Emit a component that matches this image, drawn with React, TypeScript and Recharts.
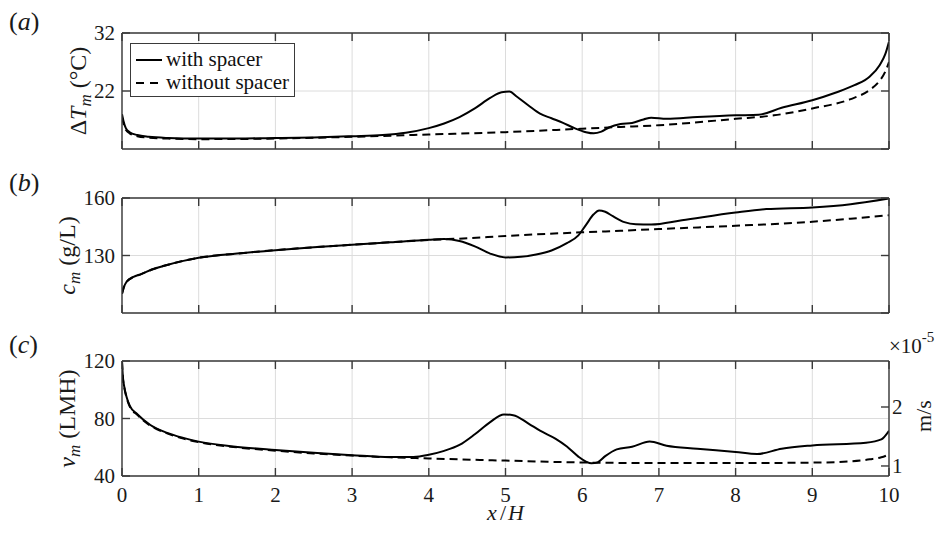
import React from 'react';
import { LineChart, Line, XAxis, YAxis, CartesianGrid, Legend } from 'recharts';

// ---------- data ----------
const xTicks = [0, 1, 2, 3, 4, 5, 6, 7, 8, 9, 10];
const tTicks = [12, 22, 32];
const cTicks = [100, 130, 160];
const vTicks = [40, 80, 120];
const msTicks = [1, 2];

// panel (a) ΔT_m
const aWithX = [0, 0.02, 0.05, 0.1, 0.2, 0.35, 0.6, 1.0, 1.5, 2.0, 2.5, 3.0, 3.4, 3.7, 4.0, 4.2, 4.4, 4.6, 4.8, 4.95, 5.05, 5.15, 5.3, 5.45, 5.6, 5.75, 5.9, 6.05, 6.15, 6.25, 6.35, 6.5, 6.65, 6.8, 6.9, 7.1, 7.5, 8.0, 8.3, 8.6, 9.0, 9.3, 9.55, 9.75, 9.88, 9.95, 10];
const aWithY = [18.0, 16.8, 15.6, 14.9, 14.4, 14.1, 13.9, 13.8, 13.8, 13.9, 14.0, 14.2, 14.4, 14.8, 15.6, 16.4, 17.5, 19.0, 20.8, 21.8, 21.9, 21.0, 19.5, 18.1, 17.3, 16.5, 15.6, 14.9, 14.7, 15.0, 15.7, 16.3, 16.5, 17.1, 17.4, 17.2, 17.5, 17.8, 17.9, 19.1, 20.4, 21.7, 23.0, 24.5, 26.5, 28.3, 30.5];
const aWithoutX = [0, 0.02, 0.05, 0.1, 0.2, 0.35, 0.6, 1.0, 2.0, 3.0, 4.0, 5.0, 6.0, 6.5, 7.0, 8.0, 8.5, 9.0, 9.5, 9.75, 9.88, 9.95, 10];
const aWithoutY = [17.5, 16.4, 15.3, 14.7, 14.2, 13.95, 13.8, 13.7, 13.8, 14.1, 14.5, 14.9, 15.5, 15.8, 16.1, 17.2, 17.8, 19.0, 20.6, 22.2, 23.8, 25.3, 27.0];

// panel (b) c_m
const bWithX = [0, 0.02, 0.06, 0.15, 0.25, 0.4, 0.6, 0.8, 1.0, 1.5, 2.0, 2.5, 3.0, 3.5, 4.0, 4.2, 4.4, 4.6, 4.8, 5.0, 5.2, 5.4, 5.6, 5.8, 5.95, 6.05, 6.15, 6.22, 6.3, 6.4, 6.55, 6.7, 6.9, 7.3, 8.0, 8.4, 9.0, 9.5, 10];
const bWithY = [110, 113, 116.3, 118.8, 120.3, 122.8, 125.2, 127.2, 128.8, 131.0, 132.8, 134.3, 135.6, 136.9, 138.2, 138.6, 137.6, 134.8, 131.0, 129.0, 129.3, 130.5, 132.6, 136.4, 140.5, 146.0, 151.5, 153.5, 152.8, 150.5, 147.4, 146.3, 146.2, 148.4, 152.4, 154.2, 155.1, 156.8, 159.8];
const bWithoutX = [0, 0.02, 0.06, 0.15, 0.25, 0.4, 0.6, 0.8, 1.0, 1.5, 2.0, 2.5, 3.0, 3.5, 4.0, 4.5, 5.0, 6.0, 6.5, 7.0, 8.0, 9.0, 9.5, 10];
const bWithoutY = [110, 113, 116.3, 118.8, 120.3, 122.8, 125.2, 127.2, 128.8, 131.0, 132.8, 134.3, 135.6, 136.9, 138.1, 139.0, 140.2, 142.1, 142.9, 143.8, 145.5, 147.6, 149.2, 151.0];

// panel (c) v_m
const cWithX = [0, 0.01, 0.03, 0.06, 0.1, 0.2, 0.37, 0.58, 0.8, 1.0, 1.45, 2.0, 2.5, 3.0, 3.5, 3.8, 4.0, 4.2, 4.4, 4.6, 4.8, 4.98, 5.1, 5.3, 5.45, 5.65, 5.8, 5.95, 6.05, 6.12, 6.2, 6.3, 6.45, 6.65, 6.88, 7.1, 7.5, 8.0, 8.28, 8.6, 9.0, 9.7, 9.9, 10];
const cWithY = [120, 110, 102, 95, 89, 83, 75.5, 70.2, 66.5, 63.9, 60.6, 58.1, 56.2, 54.5, 53.2, 53.3, 54.8, 57.5, 61.6, 69, 77.5, 82.8, 82.3, 76.5, 71.5, 66.0, 60.5, 53.5, 50.0, 48.8, 49.5, 53.8, 58.5, 60.3, 64.0, 61.0, 59.0, 56.7, 55.3, 59.0, 61.3, 63.2, 65.5, 71.5];
const cWithoutX = [0, 0.01, 0.03, 0.06, 0.1, 0.2, 0.37, 0.58, 0.8, 1.0, 1.45, 2.0, 2.5, 3.0, 3.5, 4.0, 5.0, 6.0, 7.0, 8.0, 9.0, 9.5, 9.75, 9.9, 10];
const cWithoutY = [119.5, 109.5, 101.5, 94.5, 88.5, 82.5, 75, 69.8, 66, 63.5, 60.2, 57.6, 55.7, 54.2, 53.0, 52.2, 50.7, 49.4, 49.0, 49.0, 49.3, 50.2, 51.6, 53.0, 55.0];

const zip = (xs: number[], ys: number[]) => xs.map((x, i) => ({ x, y: ys[i] }));
const aWith = zip(aWithX, aWithY);
const aWithout = zip(aWithoutX, aWithoutY);
const bWith = zip(bWithX, bWithY);
const bWithout = zip(bWithoutX, bWithoutY);
const cWith = zip(cWithX, cWithY);
const cWithout = zip(cWithoutX, cWithoutY);

// ---------- styles ----------
const FONT = 'Liberation Serif';
const FRAME = '#3a3a3a';
const GRID = '#dcdcdc';
const DASH = '8 5';
const TEXT = '#1a1a1a';
const blank = () => '';
const axisLine = { stroke: FRAME, strokeWidth: 1.4 };
const tickLine = { stroke: FRAME, strokeWidth: 1.4 };
const tickFont = { fontFamily: FONT, fontSize: 21, fill: TEXT };

const YLabel = (props: any) => {
  const { viewBox, bx, parts } = props;
  const cy = viewBox.y + viewBox.height / 2;
  return (
    <text
      x={bx}
      y={cy}
      transform={`rotate(-90 ${bx} ${cy})`}
      textAnchor="middle"
      fontFamily={FONT}
      fontSize={24}
      fill={TEXT}
    >
      {parts}
    </text>
  );
};

const XLabel = (props: any) => {
  const { viewBox } = props;
  const cx = viewBox.x + viewBox.width / 2;
  return (
    <text x={cx} y={viewBox.y + 44} textAnchor="middle" fontFamily={FONT} fontSize={22} fill={TEXT}>
      <tspan fontStyle="italic">x</tspan>
      <tspan dx={3}>/</tspan>
      <tspan dx={2} fontStyle="italic">H</tspan>
    </text>
  );
};

const RightLabel = (props: any) => {
  const { viewBox } = props;
  const bx = viewBox.x + 42;
  const cy = viewBox.y + 55;
  return (
    <g>
      <text x={bx} y={cy} transform={`rotate(-90 ${bx} ${cy})`} textAnchor="middle" fontFamily={FONT} fontSize={22} fill={TEXT}>
        m/s
      </text>
      <text x={viewBox.x} y={viewBox.y - 8} fontFamily={FONT} fontSize={21} fill={TEXT}>
        <tspan>×10</tspan>
        <tspan dy={-11} fontSize={15}>-5</tspan>
      </text>
    </g>
  );
};

const LegendBox = () => {
  const row = (dashed: boolean, label: string) => (
    <div style={{ display: 'flex', alignItems: 'center', height: 23 }}>
      <svg width={28} height={10} style={{ marginRight: 3 }}>
        <line x1={1} y1={5} x2={27} y2={5} stroke="#000" strokeWidth={2} strokeDasharray={dashed ? '8 6' : undefined} />
      </svg>
      <span>{label}</span>
    </div>
  );
  return (
    <div
      style={{
        border: `1.4px solid ${FRAME}`,
        background: '#fff',
        width: 165,
        height: 54,
        boxSizing: 'border-box',
        fontFamily: FONT,
        fontSize: 21,
        color: '#111',
        padding: '4px 0 0 4px',
        lineHeight: '23px',
      }}
    >
      {row(false, 'with spacer')}
      {row(true, 'without spacer')}
    </div>
  );
};

const panelLabel = (text: string, top: number) => (
  <div
    style={{
      position: 'absolute',
      left: 9,
      top,
      fontFamily: FONT,
      fontSize: 26,
      color: TEXT,
      lineHeight: '26px',
    }}
  >
    (<span style={{ fontStyle: 'italic' }}>{text}</span>)
  </div>
);

export default function App() {
  return (
    <div style={{ position: 'absolute', left: 0, top: 0, width: 943, height: 534, background: '#fff', overflow: 'hidden', fontFamily: FONT }}>
      {panelLabel('a', 9)}
      {panelLabel('b', 170)}
      {panelLabel('c', 332)}

      {/* panel (a) */}
      <div style={{ position: 'absolute', left: 0, top: 0 }}>
        <LineChart width={943} height={160} margin={{ top: 32, right: 0, bottom: 0, left: 0 }}>
          <CartesianGrid stroke={GRID} strokeWidth={1} />
          <Line data={aWith} dataKey="y" type="monotone" stroke="#000" strokeWidth={2} dot={false} activeDot={false} isAnimationActive={false} />
          <Line data={aWithout} dataKey="y" type="monotone" stroke="#000" strokeWidth={2} strokeDasharray={DASH} dot={false} activeDot={false} isAnimationActive={false} />
          <XAxis dataKey="x" type="number" domain={[0, 10]} ticks={xTicks} allowDataOverflow height={11} tickSize={-8} tickFormatter={blank} axisLine={axisLine} tickLine={tickLine} />
          <XAxis xAxisId="top" orientation="top" dataKey="x" type="number" domain={[0, 10]} ticks={xTicks} allowDataOverflow height={1} tickSize={-8} tickFormatter={blank} axisLine={axisLine} tickLine={tickLine} />
          <YAxis type="number" domain={[12, 32]} ticks={tTicks} allowDataOverflow width={122} tickSize={-8} tickMargin={15} tick={tickFont} axisLine={axisLine} tickLine={tickLine}
            label={{
              content: (p: any) => (
                <YLabel {...p} bx={86} parts={[
                  <tspan key="1">Δ</tspan>,
                  <tspan key="2" fontStyle="italic">T</tspan>,
                  <tspan key="3" fontStyle="italic" fontSize={17} dy={5}>m</tspan>,
                  <tspan key="4" dy={-5}> (°C)</tspan>,
                ]} />
              ),
            }}
          />
          <YAxis yAxisId="r" orientation="right" type="number" domain={[12, 32]} ticks={tTicks} allowDataOverflow width={54} tickSize={-8} tickFormatter={blank} axisLine={axisLine} tickLine={tickLine} />
          <Legend layout="vertical" align="center" verticalAlign="middle" content={() => <LegendBox />} wrapperStyle={{ left: 130, top: 43, width: 165, height: 54 }} />
        </LineChart>
      </div>

      {/* panel (b) */}
      <div style={{ position: 'absolute', left: 0, top: 165 }}>
        <LineChart width={943} height={160} margin={{ top: 32, right: 0, bottom: 0, left: 0 }}>
          <CartesianGrid stroke={GRID} strokeWidth={1} />
          <Line data={bWith} dataKey="y" type="monotone" stroke="#000" strokeWidth={2} dot={false} activeDot={false} isAnimationActive={false} />
          <Line data={bWithout} dataKey="y" type="monotone" stroke="#000" strokeWidth={2} strokeDasharray={DASH} dot={false} activeDot={false} isAnimationActive={false} />
          <XAxis dataKey="x" type="number" domain={[0, 10]} ticks={xTicks} allowDataOverflow height={12} tickSize={-8} tickFormatter={blank} axisLine={axisLine} tickLine={tickLine} />
          <XAxis xAxisId="top" orientation="top" dataKey="x" type="number" domain={[0, 10]} ticks={xTicks} allowDataOverflow height={1} tickSize={-8} tickFormatter={blank} axisLine={axisLine} tickLine={tickLine} />
          <YAxis type="number" domain={[100, 160]} ticks={cTicks} allowDataOverflow width={122} tickSize={-8} tickMargin={15} tick={tickFont} axisLine={axisLine} tickLine={tickLine}
            label={{
              content: (p: any) => (
                <YLabel {...p} bx={75} parts={[
                  <tspan key="1" fontStyle="italic">c</tspan>,
                  <tspan key="2" fontStyle="italic" fontSize={17} dy={5}>m</tspan>,
                  <tspan key="3" dy={-5}> (g/L)</tspan>,
                ]} />
              ),
            }}
          />
          <YAxis yAxisId="r" orientation="right" type="number" domain={[100, 160]} ticks={cTicks} allowDataOverflow width={54} tickSize={-8} tickFormatter={blank} axisLine={axisLine} tickLine={tickLine} />
        </LineChart>
      </div>

      {/* panel (c) */}
      <div style={{ position: 'absolute', left: 0, top: 328 }}>
        <LineChart width={943} height={206} margin={{ top: 32, right: 0, bottom: 0, left: 0 }}>
          <CartesianGrid stroke={GRID} strokeWidth={1} />
          <Line data={cWith} dataKey="y" type="monotone" stroke="#000" strokeWidth={2} dot={false} activeDot={false} isAnimationActive={false} />
          <Line data={cWithout} dataKey="y" type="monotone" stroke="#000" strokeWidth={2} strokeDasharray={DASH} dot={false} activeDot={false} isAnimationActive={false} />
          <XAxis dataKey="x" type="number" domain={[0, 10]} ticks={xTicks} allowDataOverflow height={58} tickSize={-8} tickMargin={19} tick={tickFont} axisLine={axisLine} tickLine={tickLine}
            label={{ content: (p: any) => <XLabel {...p} /> }}
          />
          <XAxis xAxisId="top" orientation="top" dataKey="x" type="number" domain={[0, 10]} ticks={xTicks} allowDataOverflow height={1} tickSize={-8} tickFormatter={blank} axisLine={axisLine} tickLine={tickLine} />
          <YAxis type="number" domain={[40, 120]} ticks={vTicks} allowDataOverflow width={122} tickSize={-8} tickMargin={15} tick={tickFont} axisLine={axisLine} tickLine={tickLine}
            label={{
              content: (p: any) => (
                <YLabel {...p} bx={75} parts={[
                  <tspan key="1" fontStyle="italic">v</tspan>,
                  <tspan key="2" fontStyle="italic" fontSize={17} dy={5}>m</tspan>,
                  <tspan key="3" dy={-5}> (LMH)</tspan>,
                ]} />
              ),
            }}
          />
          <YAxis yAxisId="r" orientation="right" type="number" domain={[0.83, 2.78]} ticks={msTicks} allowDataOverflow width={54} tickSize={-8} tickMargin={11} tick={tickFont} axisLine={axisLine} tickLine={tickLine}
            label={{ content: (p: any) => <RightLabel {...p} /> }}
          />
        </LineChart>
      </div>
    </div>
  );
}
